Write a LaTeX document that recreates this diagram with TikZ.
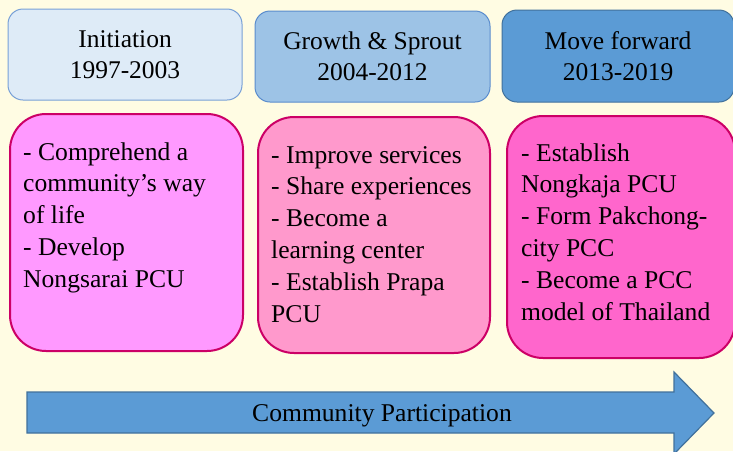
\documentclass[tikz,border=0pt]{standalone}
\usepackage{fontspec}
\setmainfont{Liberation Serif}
\definecolor{bgc}{RGB}{255,252,227}
\definecolor{b1fill}{RGB}{222,235,247}
\definecolor{b1line}{RGB}{120,160,215}
\definecolor{b2fill}{RGB}{157,195,230}
\definecolor{b2line}{RGB}{90,140,205}
\definecolor{b3fill}{RGB}{91,155,213}
\definecolor{b3line}{RGB}{65,113,156}
\definecolor{p1fill}{RGB}{255,153,255}
\definecolor{p2fill}{RGB}{255,153,204}
\definecolor{p3fill}{RGB}{255,102,204}
\definecolor{pline}{RGB}{204,0,102}
\begin{document}
\begin{tikzpicture}[x=1pt,y=-1pt,
  phase/.style={draw, line width=1pt, rounded corners=15pt, align=center,
    font=\fontsize{25.5}{31}\selectfont, inner sep=0pt},
  pbox/.style={draw=pline, line width=2pt, rounded corners=36pt, inner sep=0pt},
  ptext/.style={anchor=base west, inner sep=0pt, align=flush left, text width=228pt,
    font=\fontsize{25.6}{31.8}\selectfont},
  arrowshape/.style={fill=b3fill, draw=b3line, line width=1.2pt}]
\fill[bgc] (0,0) rectangle (733,451);
\useasboundingbox (0,0) rectangle (733,451);
% top phase boxes
\node[phase, fill=b1fill, draw=b1line, minimum width=234pt, minimum height=91pt] (ph1) at (125,54.5) {Initiation\\1997-2003};
\node[phase, fill=b2fill, draw=b2line, minimum width=235pt, minimum height=91pt] (ph2) at (372.5,56.5) {Growth \& Sprout\\2004-2012};
\node[phase, fill=b3fill, draw=b3line, minimum width=232pt, minimum height=92pt] (ph3) at (618,56) {Move forward\\2013-2019};
% pink boxes
\node[pbox, fill=p1fill, minimum width=233pt, minimum height=237pt] (pb1) at (126.5,232.5) {};
\node[pbox, fill=p2fill, minimum width=232pt, minimum height=236pt] (pb2) at (374,235) {};
\node[pbox, fill=p3fill, minimum width=228pt, minimum height=242pt] (pb3) at (621,237) {};
\node[ptext] (t1) at (23,160) {- Comprehend a\\community’s way\\of life\\- Develop\\Nongsarai PCU};
\node[ptext] (t2) at (271,163) {- Improve services\\- Share experiences\\- Become a\\learning center\\- Establish Prapa\\PCU};
\node[ptext] (t3) at (521,161) {- Establish\\Nongkaja PCU\\- Form Pakchong-\\city PCC\\- Become a PCC\\model of Thailand};
% arrow
\coordinate (a1) at (27,392);
\coordinate (a2) at (674,392);
\coordinate (a3) at (674,372);
\coordinate (a4) at (714,413);
\coordinate (a5) at (674,454);
\coordinate (a6) at (674,433);
\coordinate (a7) at (27,433);
\draw[arrowshape] (a1) -- (a2) -- (a3) -- (a4) -- (a5) -- (a6) -- (a7) -- cycle;
\node[anchor=base, inner sep=0pt, font=\fontsize{25.6}{30}\selectfont] (cp) at (382,421) {Community Participation};
\end{tikzpicture}
\end{document}
